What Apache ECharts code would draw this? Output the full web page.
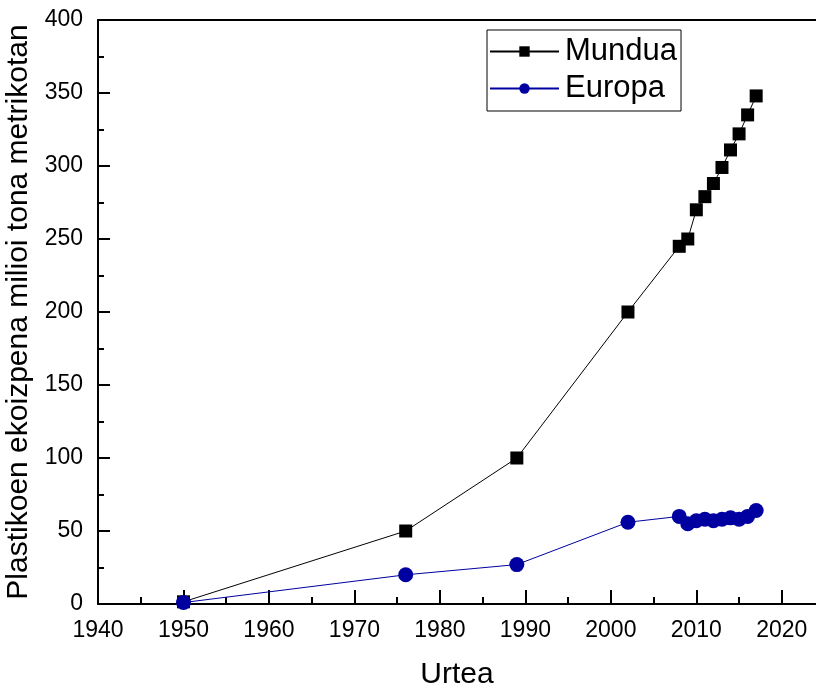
<!DOCTYPE html>
<html>
<head>
<meta charset="utf-8">
<script src="https://cdn.jsdelivr.net/npm/echarts@6/dist/echarts.min.js"></script>
<style>
  html, body { margin: 0; padding: 0; background: #fff; }
  #chart { width: 816px; height: 691px; }
</style>
</head>
<body>
<div id="chart"></div>
<script>
var years = [1950, 1976, 1989, 2002, 2008, 2009, 2010, 2011, 2012, 2013, 2014, 2015, 2016, 2017];
var mundua = [1.5, 50, 100, 200, 245, 250, 270, 279, 288, 299, 311, 322, 335, 348];
var europa = [1, 20, 27, 56, 60, 55, 57, 58, 57, 58, 59, 58, 60, 64];
var xTicks = [1940, 1950, 1960, 1970, 1980, 1990, 2000, 2010, 2020];

var font = 'Liberation Sans, Arial, sans-serif';

function pairs(xs, ys) {
    return xs.map(function (x, i) { return [x, ys[i]]; });
}

var chart = echarts.init(document.getElementById('chart'));
var option = {
    backgroundColor: '#fff',
    animation: false,
    grid: { left: 98, right: 0, top: 20, bottom: 87, outerBoundsMode: 'none', containLabel: false },
    legend: {
        left: 487,
        top: 30,
        orient: 'vertical',
        padding: [6, 4, 7, 2],
        itemGap: 6,
        itemWidth: 69,
        itemHeight: 13,
        borderColor: '#000',
        borderWidth: 1,
        borderRadius: 0,
        textStyle: { fontFamily: font, fontSize: 31, color: '#000', padding: [0, 0, 0, 1] },
        data: ['Mundua', 'Europa']
    },
    xAxis: [{
        type: 'value',
        min: 1940,
        max: 2024,
        interval: 10,
        name: 'Urtea',
        nameLocation: 'middle',
        nameGap: 56,
        nameTextStyle: { fontFamily: font, fontSize: 30, color: '#000' },
        axisLine: { lineStyle: { color: '#000', width: 2 } },
        axisTick: { inside: true, length: 14, lineStyle: { color: '#000', width: 2 }, customValues: xTicks },
        minorTick: { show: true, splitNumber: 2, length: 7, lineStyle: { color: '#000', width: 2 } },
        axisLabel: {
            fontFamily: font, fontSize: 23, color: '#000', margin: 15, customValues: xTicks,
            formatter: function (v) { return String(v); }
        },
        splitLine: { show: false }
    }, {
        type: 'value',
        position: 'top',
        min: 1940,
        max: 2024,
        axisLine: { show: true, onZero: false, lineStyle: { color: '#000', width: 2 } },
        axisTick: { show: false },
        axisLabel: { show: false },
        splitLine: { show: false }
    }],
    yAxis: {
        type: 'value',
        min: 0,
        max: 400,
        interval: 50,
        name: 'Plastikoen ekoizpena milioi tona metrikotan',
        nameLocation: 'middle',
        nameGap: 64,
        nameTextStyle: { fontFamily: font, fontSize: 30, color: '#000' },
        axisLine: { show: true, lineStyle: { color: '#000', width: 2 } },
        axisTick: { show: true, inside: true, length: 12, lineStyle: { color: '#000', width: 2 } },
        minorTick: { show: true, splitNumber: 2, length: 6, lineStyle: { color: '#000', width: 2 } },
        axisLabel: { fontFamily: font, fontSize: 23, color: '#000', margin: 15 },
        splitLine: { show: false }
    },
    series: [{
        name: 'Mundua',
        type: 'line',
        data: pairs(years, mundua),
        symbol: 'rect',
        symbolSize: 13,
        itemStyle: { color: '#000' },
        lineStyle: { color: '#000', width: 1 }
    }, {
        name: 'Europa',
        type: 'line',
        data: pairs(years, europa),
        symbol: 'circle',
        symbolSize: 15,
        itemStyle: { color: '#0000a0' },
        lineStyle: { color: '#0000a0', width: 1 }
    }]
};
chart.setOption(option);
</script>
</body>
</html>
